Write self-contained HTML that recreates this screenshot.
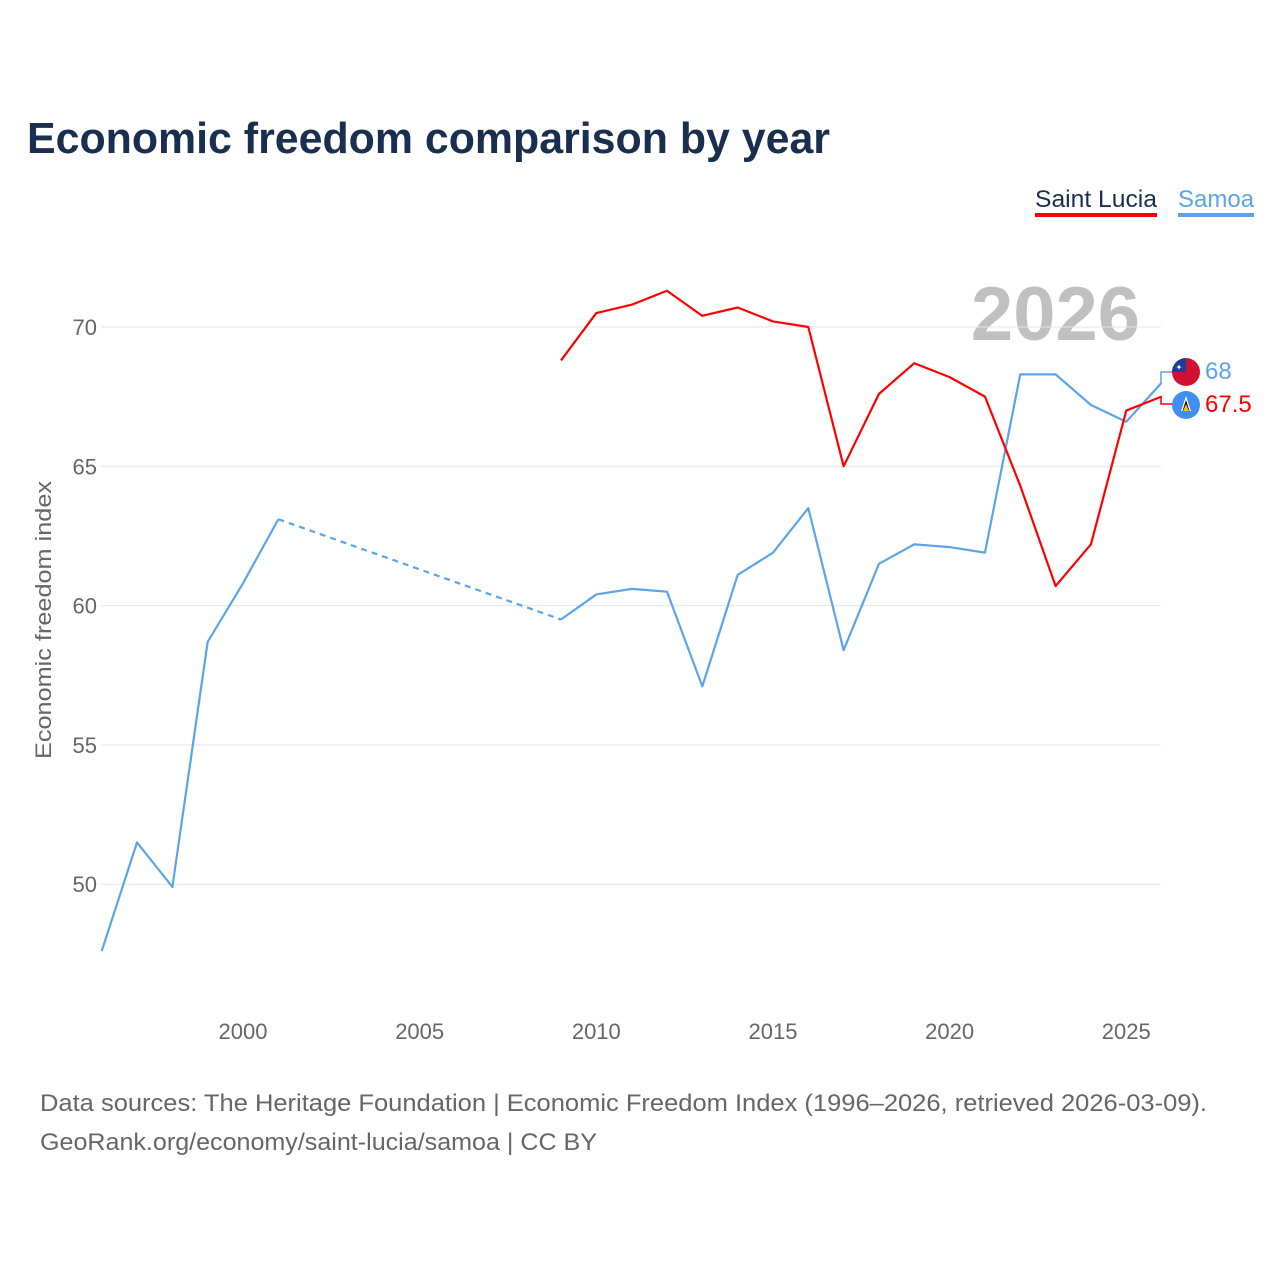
<!DOCTYPE html>
<html><head><meta charset="utf-8"><style>
body{margin:0;background:#fff;font-family:"Liberation Sans",sans-serif;}
svg text{font-family:"Liberation Sans",sans-serif;}
</style></head><body>
<svg width="1280" height="1280" xmlns="http://www.w3.org/2000/svg">
<text x="27" y="153" font-size="44" font-weight="bold" fill="#1a2e4f" textLength="803" lengthAdjust="spacingAndGlyphs">Economic freedom comparison by year</text>
<g>
<text x="1035" y="207" font-size="24" fill="#1a2e4f" textLength="122" lengthAdjust="spacingAndGlyphs">Saint Lucia</text>
<rect x="1035" y="213" width="122" height="4" fill="#ff0000"/>
<text x="1178" y="207" font-size="24" fill="#5ba4e8">Samoa</text>
<rect x="1178" y="213" width="76" height="4" fill="#5ba4e8"/>
</g>
<text x="1140" y="340" font-size="76" font-weight="bold" fill="#c0c0c0" text-anchor="end">2026</text>
<g id="grid"></g><g id="xt"></g><g id="lines"></g>
<text transform="translate(51,620) rotate(-90)" font-size="22" fill="#666" text-anchor="middle" textLength="278" lengthAdjust="spacingAndGlyphs">Economic freedom index</text>
<g>
<polyline points="1161,383 1161,372 1172,372" fill="none" stroke="#5ba4e8" stroke-width="1.5"/>
<polyline points="1161,396 1161,404 1172,404" fill="none" stroke="#ff0000" stroke-width="1.5"/>
<clipPath id="c1"><circle cx="1186" cy="372" r="14"/></clipPath>
<g clip-path="url(#c1)"><rect x="1172" y="358" width="28" height="28" fill="#d21034"/><rect x="1172" y="358" width="14" height="14" fill="#1f3f96"/><text x="1179" y="370" font-size="8" fill="#fff" text-anchor="middle">✦</text></g>
<circle cx="1186" cy="405" r="14" fill="#3f8ef0"/>
<polygon points="1186,396 1181,411 1191,411" fill="#fff"/><polygon points="1186,400 1182.5,411 1189.5,411" fill="#000"/><polygon points="1186,404 1183,411 1189,411" fill="#f8c300"/>
<text x="1205" y="379" font-size="24" fill="#5ba4e8">68</text>
<text x="1205" y="412" font-size="24" fill="#ff0000">67.5</text>
</g>
<text x="40" y="1111" font-size="24" fill="#666" textLength="1167" lengthAdjust="spacingAndGlyphs">Data sources: The Heritage Foundation | Economic Freedom Index (1996–2026, retrieved 2026-03-09).</text>
<text x="40" y="1150" font-size="24" fill="#666" textLength="557" lengthAdjust="spacingAndGlyphs">GeoRank.org/economy/saint-lucia/samoa | CC BY</text>
</svg>
<script>
const years=[1996,1997,1998,1999,2000,2001,2002,2003,2004,2005,2006,2007,2008,2009,2010,2011,2012,2013,2014,2015,2016,2017,2018,2019,2020,2021,2022,2023,2024,2025,2026];
const samoa=[47.6,51.5,49.9,58.7,60.8,63.1,null,null,null,null,null,null,null,59.5,60.4,60.6,60.5,57.1,61.1,61.9,63.5,58.4,61.5,62.2,62.1,61.9,68.3,68.3,67.2,66.6,68.0];
const stLucia=[null,null,null,null,null,null,null,null,null,null,null,null,null,68.8,70.5,70.8,71.3,70.4,70.7,70.2,70.0,65.0,67.6,68.7,68.2,67.5,64.3,60.7,62.2,67.0,67.5];
const yTicks=[50,55,60,65,70];
const xTicks=[2000,2005,2010,2015,2020,2025];
const NS="http://www.w3.org/2000/svg";
const X=y=>101.7+(y-1996)*35.33;
const Y=v=>327+(70-v)*27.86;
function mk(t,a,p){const e=document.createElementNS(NS,t);for(const k in a)e.setAttribute(k,a[k]);p.appendChild(e);return e;}
const g=document.getElementById('grid');
yTicks.forEach(v=>{
const l=mk('line',{x1:101,x2:1161,y1:Y(v),y2:Y(v),stroke:'#e6e6e6','stroke-width':1},g);


const t=mk('text',{x:97,y:Y(v)+8,'font-size':22,fill:'#666','text-anchor':'end'},g);t.textContent=v;


});
const xt=document.getElementById('xt');
xTicks.forEach(v=>{
const t=mk('text',{x:X(v),y:1039,'font-size':22,fill:'#666','text-anchor':'middle'},xt);t.textContent=v;


});
const L=document.getElementById('lines');
function draw(vals,color,name){
let segs=[],cur=[],gaps=[],last=null;
vals.forEach((v,i)=>{
if(v==null){if(cur.length){segs.push(cur);cur=[];}}
else{const p=[X(years[i]),Y(v)];if(!cur.length&&last&&last.i<i-1)gaps.push([last.p,p]);cur.push(p);last={i,p};}
});
if(cur.length)segs.push(cur);
segs.forEach(s=>{const e=mk('polyline',{points:s.map(p=>p.join(',')).join(' '),fill:'none',stroke:color,'stroke-width':2.2,'stroke-linejoin':'round'},L);

});
gaps.forEach(gp=>{const e=mk('line',{x1:gp[0][0],y1:gp[0][1],x2:gp[1][0],y2:gp[1][1],stroke:color,'stroke-width':2.2,'stroke-dasharray':'6,5'},L);

});
}
draw(samoa,'#5ba4e8','samoa');
draw(stLucia,'#ff0000','saint-lucia');
</script>
</body></html>
